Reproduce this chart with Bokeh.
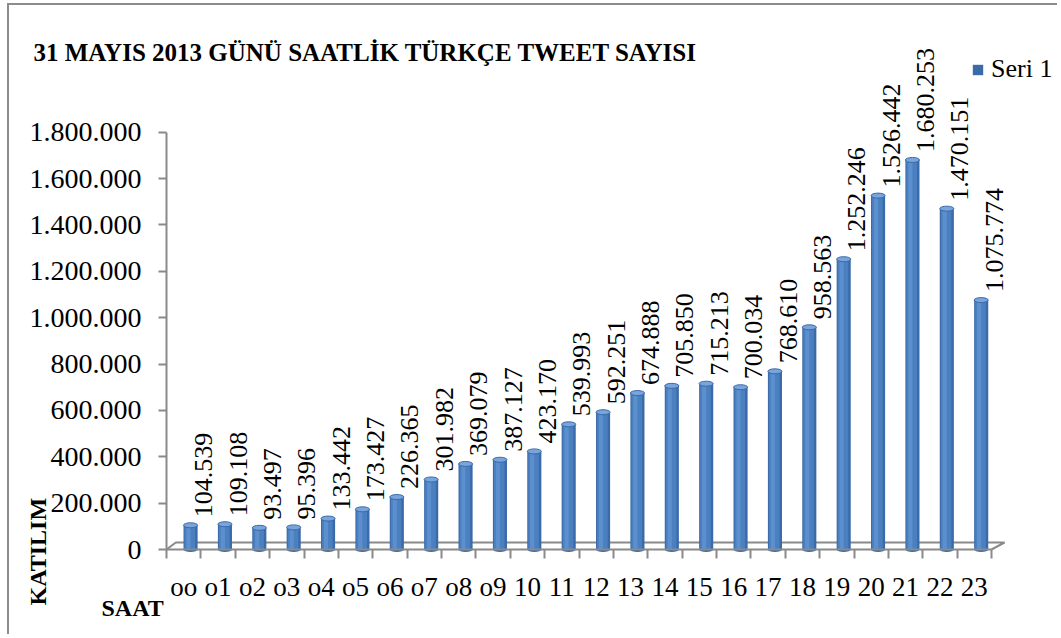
import math
from bokeh.plotting import figure
from bokeh.models import Range1d, FixedTicker, Label, ColumnDataSource, Legend, LegendItem
from bokeh.core.properties import value
from bokeh.embed import file_html
from bokeh.resources import INLINE

# ---------------- data ----------------
hours = ["oo", "o1", "o2", "o3", "o4", "o5", "o6", "o7", "o8", "o9", "10", "11",
         "12", "13", "14", "15", "16", "17", "18", "19", "20", "21", "22", "23"]
tweets = [104539, 109108, 93497, 95396, 133442, 173427, 226365, 301982, 369079,
          387127, 423170, 539993, 592251, 674888, 705850, 715213, 700034, 768610,
          958563, 1252246, 1526442, 1680253, 1470151, 1075774]
y_ticks = [0, 200000, 400000, 600000, 800000, 1000000, 1200000, 1400000, 1600000, 1800000]
y_tick_labels = ["0", "200.000", "400.000", "600.000", "800.000", "1.000.000",
                 "1.200.000", "1.400.000", "1.600.000", "1.800.000"]
title_text = "31 MAYIS 2013 GÜNÜ SAATLİK TÜRKÇE TWEET SAYISI"
series_name = "Seri 1"
y_title = "KATILIM"
x_title = "SAAT"

# ---------------- layout / style ----------------
SERIF = value("Liberation Serif")
GRAY = "#8a8a8a"
W, H = 1050, 631            # canvas size
ORIG_X, ORIG_Y = 9, 5       # canvas origin on the page
AX_X, AX_Y = 166, 549       # page position of the axes corner
PX_PER_CAT = 34.375
PX_PER_UNIT = 231.83 / 1e6
n = len(hours)
xs = list(range(n))

def xd(px):
    return -0.5 + (px - AX_X) / PX_PER_CAT

def yd(py):
    return (AX_Y - py) / PX_PER_UNIT

def sx(px):
    return px - ORIG_X

def sy(py):
    return (ORIG_Y + H) - py

bar_shift = 0.2
bar_w = 0.41
lab_shift = 0.58

val_labels = [f"{v:,}".replace(",", ".") for v in tweets]
src = ColumnDataSource(dict(
    x=[i + bar_shift for i in xs],
    xm=[i + bar_shift - 0.02 for i in xs],
    xh=[i + bar_shift - 0.06 for i in xs],
    xl=[i + lab_shift for i in xs],
    v=tweets,
    z=[0] * n,
    lab=val_labels,
))

p = figure(width=W, height=H, output_backend="svg", toolbar_location=None,
           x_range=Range1d(xd(ORIG_X), xd(ORIG_X + W)),
           y_range=Range1d(yd(ORIG_Y + H), yd(ORIG_Y)),
           min_border_left=0, min_border_bottom=0,
           min_border_top=0, min_border_right=0)
p.styles = {"margin-left": "7px", "margin-top": "3px",
            "border-left": "2px solid #8c8c8c", "border-top": "2px solid #8c8c8c"}
p.outline_line_color = None
p.xgrid.visible = False
p.ygrid.visible = False
p.background_fill_color = "white"
p.border_fill_color = "white"

# 3D floor
dxl, dxr = 0.27, 0.38
dy = 7 / PX_PER_UNIT
fx = [-0.5, -0.5 + dxl, n - 0.5 + dxr, n - 0.5]
fy = [0, dy, dy, 0]
p.line(fx, fy, line_color=GRAY, line_width=2)

# cylinders
p.ellipse(x="x", y="z", width=bar_w, height=5, height_units="screen",
          fill_color="#3a6aa8", line_color=None, source=src)
r_main = p.vbar(x="x", bottom=0, top="v", width=bar_w, fill_color="#3a6aa8",
                line_color=None, source=src)
p.vbar(x="xm", bottom=0, top="v", width=0.31, fill_color="#4a7fc0",
       line_color=None, source=src)
p.vbar(x="xh", bottom=0, top="v", width=0.12, fill_color="#5c8fce",
       line_color=None, source=src)
p.ellipse(x="x", y="v", width=bar_w, height=5, height_units="screen",
          fill_color="#79a5dc", line_color="#3a6aa8", line_width=1, source=src)

# value labels
p.text(x="xl", y="v", text="lab", angle=math.pi / 2, text_align="left",
       text_baseline="middle", y_offset=-8, text_font=SERIF,
       text_font_size="26px", text_color="black", source=src)

# axes (drawn at fixed data locations inside the full-canvas frame)
xa = p.xaxis[0]
xa.fixed_location = 0
xa.ticker = FixedTicker(ticks=xs, minor_ticks=[i - 0.5 for i in range(n + 1)])
xa.major_label_overrides = {i: h for i, h in enumerate(hours)}
xa.bounds = (-0.5, n - 0.5)
xa.axis_line_color = GRAY
xa.axis_line_width = 2
xa.major_tick_out = 0
xa.major_tick_in = 0
xa.minor_tick_out = 9
xa.minor_tick_in = 0
xa.minor_tick_line_color = GRAY
xa.minor_tick_line_width = 2
xa.major_label_standoff = 13
xa.major_label_text_font = "Liberation Serif"
xa.major_label_text_font_size = "27px"
xa.major_label_text_color = "black"

ya = p.yaxis[0]
ya.fixed_location = -0.5
ya.ticker = FixedTicker(ticks=y_ticks, minor_ticks=[])
ya.major_label_overrides = {t: l for t, l in zip(y_ticks, y_tick_labels)}
ya.bounds = (0, y_ticks[-1])
ya.axis_line_color = GRAY
ya.axis_line_width = 2
ya.major_tick_out = 8
ya.major_tick_in = 0
ya.major_tick_line_color = GRAY
ya.major_tick_line_width = 2
ya.minor_tick_out = 0
ya.minor_tick_in = 0
ya.major_label_standoff = 17
ya.major_label_text_font = "Liberation Serif"
ya.major_label_text_font_size = "28px"
ya.major_label_text_color = "black"

# legend
legend = Legend(items=[LegendItem(label=series_name, renderers=[r_main])],
                location=(sx(971), sy(84)), border_line_color=None,
                background_fill_alpha=0, padding=0, margin=0, spacing=0,
                glyph_width=13, glyph_height=13, label_standoff=7,
                label_text_font="Liberation Serif", label_text_font_size="26px",
                label_text_color="black")
p.add_layout(legend)

# titles
p.add_layout(Label(x=sx(33), y=sy(52), x_units="screen", y_units="screen",
                   text=title_text, text_font="Liberation Serif",
                   text_font_style="bold", text_font_size="25px",
                   text_baseline="alphabetic", text_color="black"))
p.add_layout(Label(x=sx(37), y=sy(605), x_units="screen", y_units="screen",
                   text=y_title, angle=math.pi / 2, text_font="Liberation Serif",
                   text_font_style="bold", text_font_size="24px",
                   text_align="left", text_baseline="alphabetic",
                   text_color="black"))
p.add_layout(Label(x=sx(101), y=sy(607), x_units="screen", y_units="screen",
                   text=x_title, text_font="Liberation Serif",
                   text_font_style="bold", text_font_size="24px",
                   text_baseline="alphabetic", text_color="black"))

open("out.html", "w").write(file_html(p, INLINE))
